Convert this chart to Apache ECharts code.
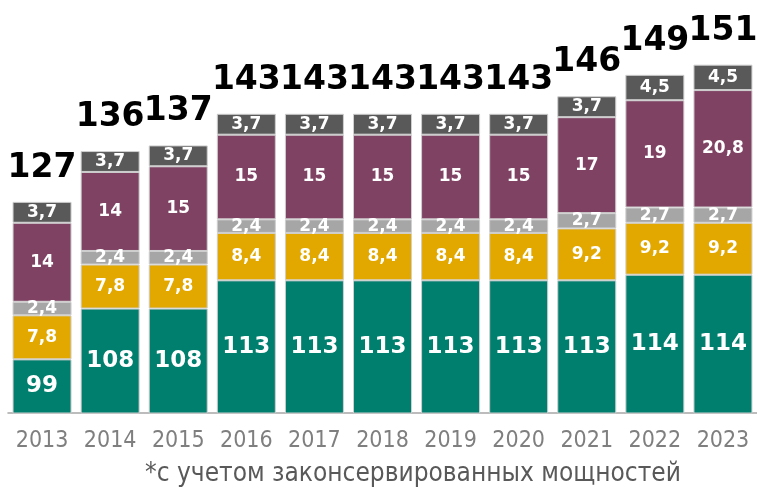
<!DOCTYPE html>
<html>
<head>
<meta charset="utf-8">
<script src="https://cdn.jsdelivr.net/npm/echarts@6/dist/echarts.min.js"></script>
<style>html,body{margin:0;padding:0;background:#fff}#c{width:757px;height:489px}</style>
</head>
<body>
<div id="c"></div>
<script>
const years = ['2013','2014','2015','2016','2017','2018','2019','2020','2021','2022','2023'];
const teal   = [99, 108, 108, 113, 113, 113, 113, 113, 113, 114, 114];
const yellow = [7.8, 7.8, 7.8, 8.4, 8.4, 8.4, 8.4, 8.4, 9.2, 9.2, 9.2];
const grey   = [2.4, 2.4, 2.4, 2.4, 2.4, 2.4, 2.4, 2.4, 2.7, 2.7, 2.7];
const purple = [14, 14, 15, 15, 15, 15, 15, 15, 17, 19, 20.8];
const dark   = [3.7, 3.7, 3.7, 3.7, 3.7, 3.7, 3.7, 3.7, 3.7, 4.5, 4.5];
const totals = ['127','136','137','143','143','143','143','143','146','149','151'];
const footnote = '*с учетом законсервированных мощностей';

const fmt = v => String(v).replace('.', ',');
const chart = echarts.init(document.getElementById('c'));
function seg(name, data, color, size) {
  return {
    name, type: 'bar', stack: 's', data, barWidth: 59,
    itemStyle: {color, borderColor: '#cfcfcf', borderWidth: 1},
    label: {show: true, position: 'inside', color: '#fff', fontFamily: 'DejaVu Sans', fontWeight: 'bold', fontSize: size,
      formatter: p => fmt(p.value)}
  };
}
chart.setOption({
  animation: false,
  grid: {left: 8, right: 0, top: 15, bottom: 76},
  xAxis: {type: 'category', data: years,
    axisLine: {lineStyle: {color: '#a6a6a6', width: 1.5}}, axisTick: {show: false},
    axisLabel: {interval: 0, color: '#7f7f7f', fontFamily: 'DejaVu Sans Condensed', fontSize: 23, margin: 17}},
  yAxis: {type: 'value', min: 89.5, max: 160, show: false, splitLine: {show: false}},
  series: [
    seg('a', teal, '#007e6e', 23),
    seg('b', yellow, '#e2a800', 17),
    seg('c', grey, '#a6a6a6', 17),
    seg('d', purple, '#7f4263', 17),
    seg('e', dark, '#595959', 17),
    {name: 'total', type: 'bar', stack: 's', barWidth: 59, data: totals.map(() => 0),
      itemStyle: {color: 'transparent'},
      label: {show: true, position: 'top', distance: 17, color: '#000', fontFamily: 'DejaVu Sans', fontWeight: 'bold', fontSize: 33,
        formatter: p => totals[p.dataIndex]}}
  ],
  graphic: [{type: 'text', left: 145, top: 461,
    style: {text: footnote, fill: '#595959', font: '26px "DejaVu Sans Condensed"'}}]
});
</script>
</body>
</html>
